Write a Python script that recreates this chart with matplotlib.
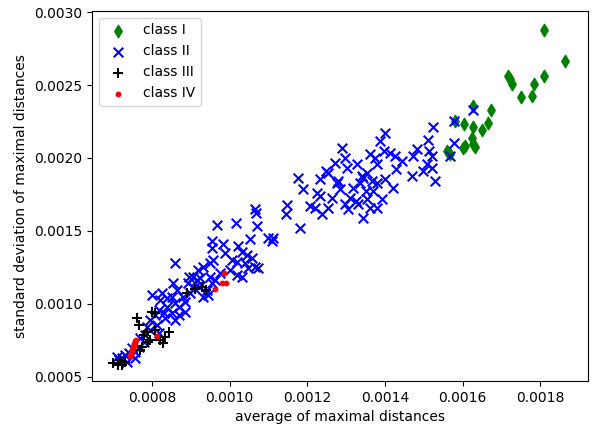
import matplotlib
matplotlib.use("Agg")
import matplotlib.pyplot as plt

# class I
avg1 = [0.001809, 0.001863, 0.001716, 0.001721, 0.001727, 0.001809, 0.001783, 0.001778,
        0.001750, 0.001673, 0.001626, 0.001665, 0.001649, 0.001626, 0.001603, 0.001580,
        0.001624, 0.001626, 0.001606, 0.001600, 0.001559, 0.001631, 0.001567]
std1 = [0.002880, 0.002662, 0.002560, 0.002539, 0.002505, 0.002560, 0.002505, 0.002423,
        0.002416, 0.002328, 0.002355, 0.002239, 0.002191, 0.002212, 0.002232, 0.002253,
        0.002137, 0.002096, 0.002082, 0.002069, 0.002048, 0.002075, 0.002028]

# class II
avg2 = [1.6263, 1.5773, 1.5773, 1.5671, 1.5233, 1.5104, 1.5130, 1.5207, 1.5079, 1.5207,
        1.4976, 1.4692, 1.5284, 1.4821, 1.4718, 1.3997, 1.3869, 1.3972, 1.4126, 1.4255,
        1.4435, 1.4281, 1.3740, 1.3792, 1.3997, 1.4203, 1.3920, 1.3792, 1.3689, 1.3663,
        1.2891, 1.2968, 1.2710, 1.3019, 1.1758, 1.1887, 1.2324, 1.2530, 1.2762, 1.2839,
        1.2633, 1.2247, 1.2324, 1.2067, 1.2196, 1.2376, 1.2530, 1.2968, 1.3045, 1.3302,
        1.3405, 1.3534, 1.3611, 1.3431, 1.1810, 1.3277, 1.3354, 1.3534, 1.3611, 1.3792,
        1.3174, 1.3097, 1.1115, 1.1475, 1.1449, 1.3431, 1.2788, 1.2479, 1.3508, 1.3251,
        1.0651, 1.0677, 1.0703, 0.9673, 1.0162, 1.0986, 1.1089, 1.0523, 1.0214, 1.0317,
        1.0445, 1.0574, 1.0651, 1.0471, 1.0188, 1.0059, 0.9879, 0.9544, 0.9544, 0.9828,
        1.0008, 1.0188, 1.0317, 0.9750, 0.9570, 0.9493, 0.9313, 0.9184, 0.9055, 0.9236,
        0.9493, 0.9544, 0.9622, 0.9416, 0.9441, 0.9313, 0.8644, 0.8592, 0.8541, 0.8798,
        0.8927, 0.8592, 1.0728, 1.0394, 0.8000, 0.8257, 0.8386, 0.8515, 0.8386, 0.8180,
        0.8077, 0.8309, 0.8515, 0.8695, 0.8695, 0.8849, 0.8978, 0.9081, 0.8952, 0.9158,
        0.9210, 0.7949, 0.7871, 0.7949, 0.7820, 0.7794, 0.7665, 0.7562, 0.7408, 0.7305,
        0.7228, 0.7151, 0.7099, 0.7562, 0.7357, 0.8180, 0.8129, 0.8592, 0.7691, 0.7485,
        0.8335, 0.8849, 0.8206]
std2 = [2.3278, 2.2527, 2.1027, 2.0140, 2.2118, 2.1232, 2.0481, 2.0140, 1.9595, 1.9322,
        1.9117, 1.8776, 1.8435, 2.0618, 2.0140, 2.1709, 2.1163, 2.0481, 2.0345, 2.0140,
        1.9799, 1.9254, 2.0004, 1.9595, 1.8572, 1.7958, 1.7208, 1.6594, 1.7753, 1.8435,
        2.0686, 2.0004, 1.9663, 1.9322, 1.8640, 1.7890, 1.8572, 1.8981, 1.8299, 1.7890,
        1.7276, 1.7617, 1.7412, 1.6730, 1.6594, 1.6185, 1.6594, 1.6867, 1.6526, 1.6867,
        1.8776, 1.8981, 2.0277, 1.5912, 1.5230, 1.9595, 1.8299, 1.7208, 1.6594, 1.8299,
        1.7958, 1.7276, 1.4548, 1.6799, 1.6185, 1.8640, 1.8435, 1.9117, 1.7753, 1.7071,
        1.6526, 1.6253, 1.5366, 1.5435, 1.5571, 1.4548, 1.4343, 1.4480, 1.4002, 1.3525,
        1.3320, 1.3116, 1.2502, 1.2434, 1.2843, 1.2979, 1.3457, 1.4343, 1.3866, 1.4139,
        1.2297, 1.1956, 1.1820, 1.2093, 1.2979, 1.2775, 1.2502, 1.2297, 1.1820, 1.1752,
        1.1820, 1.1411, 1.1615, 1.0933, 1.0592, 1.0456, 1.0933, 1.2775, 1.1411, 1.0456,
        1.1411, 1.0047, 1.2434, 1.2775, 1.0592, 1.0729, 1.0388, 1.0456, 0.9774, 0.9569,
        0.9228, 0.9365, 0.9365, 0.9228, 0.9774, 1.0115, 1.0729, 1.1070, 1.1820, 1.1615,
        1.1138, 0.8887, 0.8410, 0.8205, 0.7864, 0.7387, 0.7046, 0.6705, 0.6637, 0.6500,
        0.6296, 0.6159, 0.6364, 0.6296, 0.6023, 0.8001, 0.8546, 0.8887, 0.7660, 0.6978,
        0.9024, 0.9433, 1.0251]
avg2 = [v * 1e-3 for v in avg2]
std2 = [v * 1e-3 for v in std2]

# class III
avg3 = [0.0008901, 0.0009107, 0.0009287, 0.0009390, 0.0008000, 0.0008077, 0.0007614,
        0.0007665, 0.0007871, 0.0008077, 0.0008438, 0.0008206, 0.0008283, 0.0007897,
        0.0007743, 0.0007691, 0.0007949, 0.0006996, 0.0007228, 0.0007176, 0.0007305,
        0.0007125, 0.0007794, 0.0008335]
std3 = [0.0010729, 0.0011002, 0.0011138, 0.0010933, 0.0009433, 0.0009365, 0.0009024,
        0.0008546, 0.0008069, 0.0008205, 0.0008069, 0.0007523, 0.0007319, 0.0007387,
        0.0007046, 0.0006841, 0.0007523, 0.0005955, 0.0005818, 0.0006159, 0.0006023,
        0.0005818, 0.0007864, 0.0007728]

# class IV
avg4 = [0.0007588, 0.0007575, 0.0007562, 0.0007550, 0.0007537, 0.0007524, 0.0007511,
        0.0007498, 0.0007485, 0.0007472, 0.0007459, 0.0007446, 0.0007434,
        0.0008129, 0.0009853, 0.0009802, 0.0009905, 0.0009622]
std4 = [0.0007523, 0.0007455, 0.0007387, 0.0007285, 0.0007182, 0.0007080, 0.0006978,
        0.0006875, 0.0006773, 0.0006671, 0.0006569, 0.0006500, 0.0006432,
        0.0007796, 0.0012093, 0.0011411, 0.0011411, 0.0011002]

fig = plt.figure(figsize=(5.93, 4.28), dpi=100)
ax = fig.add_axes([0.155, 0.1098, 0.8364, 0.8645])
ax.scatter(avg1, std1, c='g', marker='d', s=40, label='class I')
ax.scatter(avg2, std2, c='b', marker='x', s=48, label='class II')
ax.scatter(avg3, std3, c='k', marker='+', s=52, label='class III')
ax.scatter(avg4, std4, c='r', marker='.', s=40, label='class IV')
ax.set_xlim(0.000646, 0.001922)
ax.set_ylim(0.000472, 0.003007)
ax.set_xticks([0.0008, 0.0010, 0.0012, 0.0014, 0.0016, 0.0018])
ax.set_yticks([0.0005, 0.0010, 0.0015, 0.0020, 0.0025, 0.0030])
ax.set_xlabel('average of maximal distances')
ax.set_ylabel('standard deviation of maximal distances')
ax.legend(loc='upper left')
plt.savefig('out.png', dpi=100)
